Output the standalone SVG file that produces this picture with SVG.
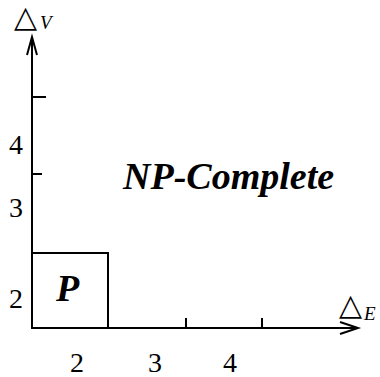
<svg xmlns="http://www.w3.org/2000/svg" width="380" height="377" viewBox="0 0 380 377">
<rect width="380" height="377" fill="#fff"/>
<g id="connectors" stroke="#000" stroke-width="2" fill="none">
<path d="M32,328 V37"/>
<path d="M27,55 L32,37 L37,55"/>
<path d="M32,328 H358"/>
<path d="M340,322 L358,328 L340,334"/>
<path d="M32,97 H46 M32,174 H42 M186,318 V328 M262,318 V328"/>
</g>
<g id="node-P">
<rect x="32" y="253" width="76" height="75" stroke="#000" stroke-width="2" fill="none"/>
<text x="56" y="301" style="font-family:'Liberation Serif',serif;font-style:italic;font-weight:bold;font-size:38px">P</text>
</g>
<g id="node-NP">
<text x="123" y="189" style="font-family:'Liberation Serif',serif;font-style:italic;font-weight:bold;font-size:38px">NP-Complete</text>
</g>
<g id="labels">
<text x="14" y="27" style="font-family:'DejaVu Sans',sans-serif;font-size:30px">&#9651;</text>
<text x="339" y="315" style="font-family:'DejaVu Sans',sans-serif;font-size:30px">&#9651;</text>
<text x="40" y="29" style="font-family:'Liberation Serif',serif;font-style:italic;font-size:19px">V</text>
<text x="364" y="320" style="font-family:'Liberation Serif',serif;font-style:italic;font-size:19px">E</text>
<text x="70" y="372" style="font-family:'Liberation Serif',serif;font-size:28px">2</text>
<text x="148" y="372" style="font-family:'Liberation Serif',serif;font-size:28px">3</text>
<text x="223" y="372" style="font-family:'Liberation Serif',serif;font-size:28px">4</text>
<text x="9" y="308" style="font-family:'Liberation Serif',serif;font-size:28px">2</text>
<text x="9" y="217" style="font-family:'Liberation Serif',serif;font-size:28px">3</text>
<text x="9" y="154" style="font-family:'Liberation Serif',serif;font-size:28px">4</text>
</g>
</svg>
